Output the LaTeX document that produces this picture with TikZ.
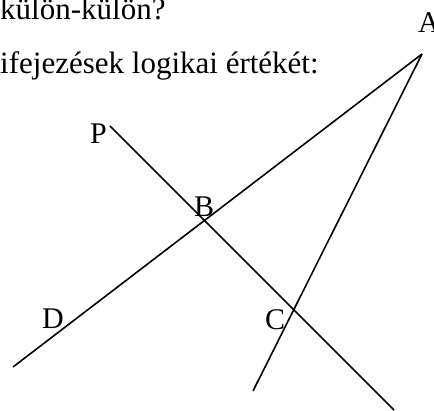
\documentclass[tikz,border=0pt]{standalone}
\usepackage{fontspec}
\setmainfont{Liberation Serif}
\begin{document}
\begin{tikzpicture}[x=1pt,y=-1pt,
  seg/.style={line width=1.6pt},
  txt/.style={inner sep=0pt,anchor=base west,font=\fontsize{31}{34}\selectfont},
  lbl/.style={inner sep=0pt,anchor=base west,font=\fontsize{30}{33}\selectfont}]
\useasboundingbox (0,0) rectangle (434,411);
\node[txt] (t1) at (0,20) {külön-külön?};
\node[txt] (t2) at (0,74) {ifejezések logikai értékét:};
\coordinate (A) at (422,54);
\coordinate (Dend) at (13,367);
\coordinate (Cend) at (253,391);
\coordinate (P) at (110,126);
\coordinate (Pend) at (394,410);
\draw[seg] (A) -- (Dend);
\draw[seg] (A) -- (Cend);
\draw[seg] (P) -- (Pend);
\node[lbl] (la) at (418,33) {A};
\node[lbl] (lp) at (90,144) {P};
\node[lbl] (lb) at (194,217) {B};
\node[lbl] (ld) at (42,329) {D};
\node[lbl] (lc) at (265,330) {C};
\end{tikzpicture}
\end{document}
